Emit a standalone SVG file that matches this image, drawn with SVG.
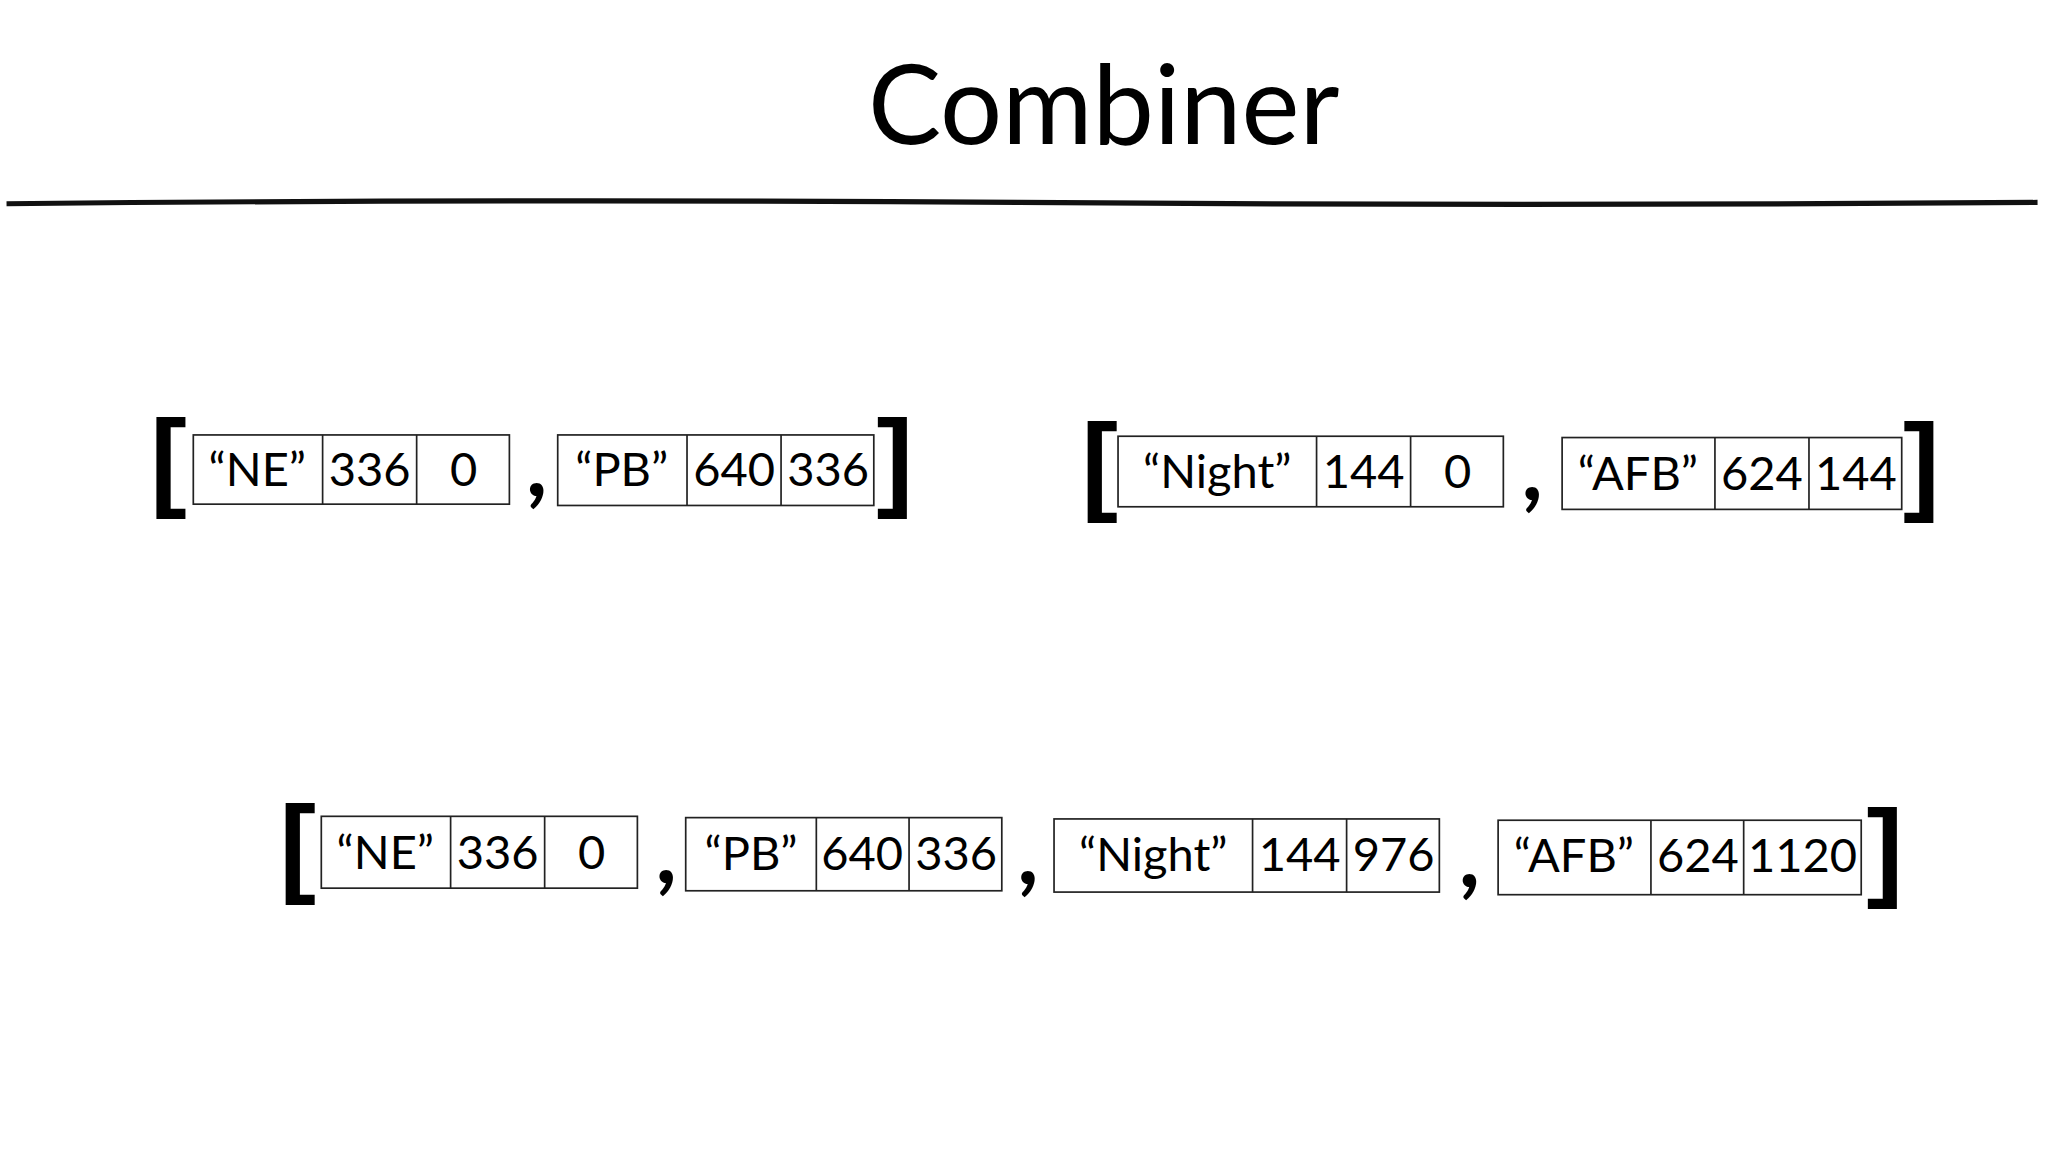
<svg xmlns="http://www.w3.org/2000/svg" width="2048" height="1152" viewBox="0 0 2048 1152">
<style>
.b{fill:#fff;stroke:#222;stroke-width:1.3}
.d{stroke:#222;stroke-width:1.3}
.t{font-family:Lato,"Liberation Sans",sans-serif;font-size:36px;fill:#000;text-anchor:middle}
.br{font-family:"Liberation Sans",sans-serif;font-size:84px;font-weight:bold;fill:#000;text-anchor:middle}
.c{font-family:Lato,"Liberation Sans",sans-serif;font-size:70px;font-weight:bold;fill:#000;text-anchor:middle}
</style>
<rect width="2048" height="1152" fill="#fff"/>
<g transform="scale(1.30612)">
<g id="title"><text x="845" y="110" font-family="Lato,'Liberation Sans',sans-serif" font-size="84" text-anchor="middle" fill="#000">Combiner</text>
<path d="M5 156 Q400 152 780 155 T1560 155" stroke="#111" stroke-width="4" fill="none"/></g>
<g id="row1left">
<text class="br" x="129" y="380">[</text>
<rect class="b" x="148" y="333" width="242" height="53"/><line class="d" x1="247" y1="333" x2="247" y2="386"/><line class="d" x1="319" y1="333" x2="319" y2="386"/>
<text class="t" x="197" y="372">“NE”</text><text class="t" x="283" y="372">336</text><text class="t" x="355" y="372">0</text>
<text class="c" x="411" y="380">,</text>
<rect class="b" x="427" y="333" width="242" height="54"/><line class="d" x1="526" y1="333" x2="526" y2="387"/><line class="d" x1="598" y1="333" x2="598" y2="387"/>
<text class="t" x="476" y="372">“PB”</text><text class="t" x="562" y="372">640</text><text class="t" x="634" y="372">336</text>
<text class="br" x="685" y="380">]</text>
</g>
<g id="row1right">
<text class="br" x="842" y="383">[</text>
<rect class="b" x="856" y="334" width="295" height="54"/><line class="d" x1="1008" y1="334" x2="1008" y2="388"/><line class="d" x1="1080" y1="334" x2="1080" y2="388"/>
<text class="t" x="932" y="374">“Night”</text><text class="t" x="1044" y="374">144</text><text class="t" x="1116" y="374">0</text>
<text class="c" x="1173" y="383">,</text>
<rect class="b" x="1196" y="335" width="260" height="55"/><line class="d" x1="1313" y1="335" x2="1313" y2="390"/><line class="d" x1="1385" y1="335" x2="1385" y2="390"/>
<text class="t" x="1254" y="375">“AFB”</text><text class="t" x="1349" y="375">624</text><text class="t" x="1421" y="375">144</text>
<text class="br" x="1471" y="383">]</text>
</g>
<g id="row2">
<text class="br" x="228" y="675">[</text>
<rect class="b" x="246" y="625" width="242" height="55"/><line class="d" x1="345" y1="625" x2="345" y2="680"/><line class="d" x1="417" y1="625" x2="417" y2="680"/>
<text class="t" x="295" y="665">“NE”</text><text class="t" x="381" y="665">336</text><text class="t" x="453" y="665">0</text>
<text class="c" x="510" y="676">,</text>
<rect class="b" x="525" y="626" width="242" height="56"/><line class="d" x1="625" y1="626" x2="625" y2="682"/><line class="d" x1="696" y1="626" x2="696" y2="682"/>
<text class="t" x="575" y="666">“PB”</text><text class="t" x="660" y="666">640</text><text class="t" x="732" y="666">336</text>
<text class="c" x="787" y="677">,</text>
<rect class="b" x="807" y="627" width="295" height="56"/><line class="d" x1="959" y1="627" x2="959" y2="683"/><line class="d" x1="1031" y1="627" x2="1031" y2="683"/>
<text class="t" x="883" y="667">“Night”</text><text class="t" x="995" y="667">144</text><text class="t" x="1067" y="667">976</text>
<text class="c" x="1125" y="679">,</text>
<rect class="b" x="1147" y="628" width="278" height="57"/><line class="d" x1="1264" y1="628" x2="1264" y2="685"/><line class="d" x1="1335" y1="628" x2="1335" y2="685"/>
<text class="t" x="1205" y="668">“AFB”</text><text class="t" x="1300" y="668">624</text><text class="t" x="1380" y="668">1120</text>
<text class="br" x="1443" y="678">]</text>
</g>
</g>
</svg>
